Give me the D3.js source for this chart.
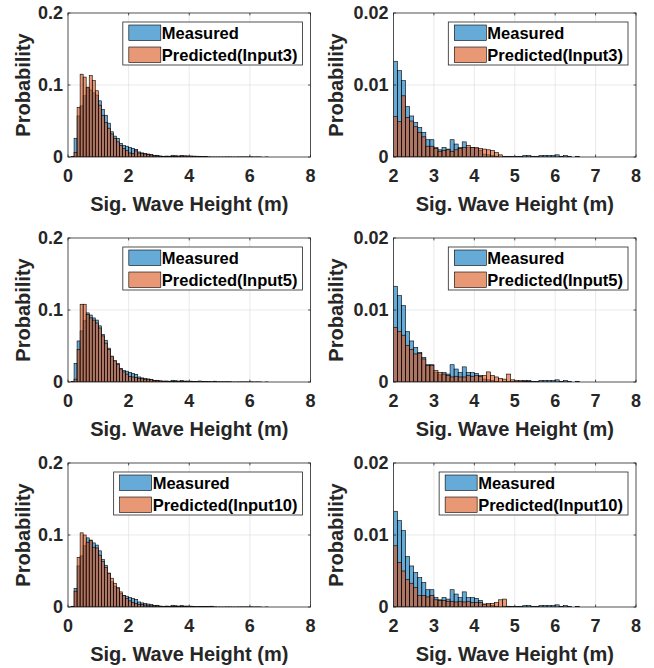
<!DOCTYPE html>
<html>
<head>
<meta charset="utf-8">
<script src="https://cdn.jsdelivr.net/npm/d3@7"></script>
<style>
  body { margin: 0; background: #fff; }
  svg { display: block; font-family: "Liberation Sans", Arial, sans-serif; font-weight: bold; }
</style>
</head>
<body>
<svg id="chart" width="654" height="668"></svg>
<script>
// histogram probabilities, bins of 0.1 m starting at 0 m
var binWidth = 0.1;

var measured = [
  0, 0.001, 0.026, 0.057, 0.071, 0.085, 0.096, 0.093, 0.089, 0.086,
  0.078, 0.066, 0.058, 0.047, 0.035, 0.029, 0.026, 0.019, 0.016, 0.015,
  0.0133, 0.0120, 0.0106, 0.0070, 0.0057, 0.0048, 0.0041, 0.0034, 0.0024, 0.0024,
  0.0013, 0.0010, 0.0013, 0.0011, 0.0024, 0.0018, 0.0013, 0.0021, 0.0013, 0.0013,
  0.0012, 0.0009, 0.0004, 0.0003, 0.0002, 0.0001, 0, 0.0001, 0.0001, 0.0001,
  0.0001, 0.0001, 0.0002, 0.0002, 0.0001, 0.0001, 0.0002, 0.0002, 0.0002, 0.0002,
  0.0003, 0.0001, 0.0002, 0.0001, 0, 0.0001
];

var predInput3 = [
  0, 0, 0.006, 0.069, 0.115, 0.111, 0.097, 0.113, 0.106, 0.092,
  0.072, 0.058, 0.048, 0.040, 0.032, 0.026, 0.021, 0.016, 0.012, 0.009,
  0.0056, 0.0049, 0.0085, 0.0055, 0.0050, 0.0042, 0.0034, 0.0028, 0.0015, 0.0015,
  0.0012, 0.0008, 0.0009, 0.0010, 0.0008, 0.0010, 0.0012, 0.0013, 0.0016, 0.0013,
  0.0013, 0.0012, 0.0011, 0.0010, 0.0009, 0.0006, 0.0003, 0, 0, 0,
  0, 0, 0, 0, 0, 0, 0, 0, 0, 0,
  0, 0, 0, 0, 0, 0
];

var predInput5 = [
  0, 0, 0.004, 0.045, 0.108, 0.108, 0.094, 0.089, 0.086, 0.082,
  0.075, 0.064, 0.054, 0.045, 0.036, 0.030, 0.024, 0.018, 0.014, 0.011,
  0.0076, 0.0070, 0.0065, 0.0051, 0.0045, 0.0039, 0.0040, 0.0032, 0.0023, 0.0023,
  0.0016, 0.0013, 0.0011, 0.0009, 0.0007, 0.0008, 0.0007, 0.0007, 0.0009, 0.0008,
  0.0009, 0.0008, 0.0009, 0.0014, 0.0009, 0.0007, 0.0005, 0.0004, 0.0011, 0.0003,
  0.0002, 0.0002, 0.0001, 0.0001, 0, 0, 0, 0, 0, 0,
  0, 0, 0, 0, 0, 0
];

var predInput10 = [
  0, 0.001, 0.022, 0.069, 0.103, 0.100, 0.090, 0.092, 0.083, 0.082,
  0.072, 0.063, 0.055, 0.047, 0.040, 0.033, 0.027, 0.021, 0.016, 0.012,
  0.0085, 0.0062, 0.0050, 0.0038, 0.0033, 0.0027, 0.0016, 0.0016, 0.0014, 0.0016,
  0.0010, 0.0009, 0.0009, 0.0008, 0.0008, 0.0007, 0.0008, 0.0007, 0.0008, 0.0006,
  0.0006, 0.0006, 0.0004, 0.0005, 0.0005, 0.0006, 0.0010, 0.0011, 0.0001, 0,
  0, 0, 0, 0, 0, 0, 0, 0, 0, 0,
  0, 0, 0, 0, 0, 0
];

var predictedSeries = [predInput3, predInput5, predInput10];
var predictedLabels = ["Predicted(Input3)", "Predicted(Input5)", "Predicted(Input10)"];
var measuredLabel = "Measured";

var leftXTicks = [0, 2, 4, 6, 8];
var leftYTicks = [0, 0.1, 0.2];
var rightXTicks = [2, 3, 4, 5, 6, 7, 8];
var rightYTicks = [0, 0.01, 0.02];

var xLabel = "Sig. Wave Height (m)";
var yLabel = "Probability";

// layout
var panelW = 242.5, panelH = 144;
var colX = [68, 393.5];
var rowY = [13, 238, 463];
var yLabelOffset = [38.5, 51];
var axisColor = "#262626";
var blue = "rgb(0,114,189)", orange = "rgb(217,83,25)";

var svg = d3.select("#chart");

var columns = [
  { xDomain: [0, 8], yDomain: [0, 0.2], xTicks: leftXTicks, yTicks: leftYTicks },
  { xDomain: [2, 8], yDomain: [0, 0.02], xTicks: rightXTicks, yTicks: rightYTicks }
];

function toBins(values, xmin) {
  return values.map(function(v, i) {
    return { x0: i * binWidth, x1: (i + 1) * binWidth, p: v };
  }).filter(function(d) { return d.p > 0 && d.x1 > xmin + 1e-9; });
}

function drawPanel(row, col) {
  var cfg = columns[col];
  var left = colX[col], top = rowY[row];
  var g = svg.append("g").attr("transform", `translate(${left},${top})`);

  var x = d3.scaleLinear().domain(cfg.xDomain).range([0, panelW]);
  var y = d3.scaleLinear().domain(cfg.yDomain).range([panelH, 0]);

  var clipId = "clip" + row + "_" + col;
  g.append("clipPath").attr("id", clipId)
    .append("rect").attr("width", panelW).attr("height", panelH);

  // grid
  g.append("g")
    .selectAll("line.vx")
    .data(cfg.xTicks.slice(1, -1))
    .enter().append("line")
    .attr("x1", d => x(d)).attr("x2", d => x(d))
    .attr("y1", 0).attr("y2", panelH)
    .attr("stroke", "#dcdcdc").attr("stroke-width", 0.6);
  g.append("g")
    .selectAll("line.hy")
    .data(cfg.yTicks.slice(1, -1))
    .enter().append("line")
    .attr("x1", 0).attr("x2", panelW)
    .attr("y1", d => y(d)).attr("y2", d => y(d))
    .attr("stroke", "#dcdcdc").attr("stroke-width", 0.6);

  // bars
  var bars = g.append("g").attr("clip-path", `url(#${clipId})`);
  [[measured, blue], [predictedSeries[row], orange]].forEach(function(s) {
    bars.append("g")
      .selectAll("rect")
      .data(toBins(s[0], cfg.xDomain[0]))
      .enter().append("rect")
      .attr("x", d => x(d.x0))
      .attr("width", d => x(d.x1) - x(d.x0))
      .attr("y", d => y(d.p))
      .attr("height", d => y(0) - y(d.p))
      .attr("fill", s[1])
      .attr("fill-opacity", 0.6)
      .attr("stroke", "#000")
      .attr("stroke-width", 0.6);
  });

  // box and ticks (inward, all four sides)
  var tl = 2.4;
  g.append("rect").attr("width", panelW).attr("height", panelH)
    .attr("fill", "none").attr("stroke", axisColor).attr("stroke-width", 0.8);
  var ticks = g.append("g").attr("stroke", axisColor).attr("stroke-width", 0.8);
  cfg.xTicks.forEach(function(t) {
    ticks.append("line").attr("x1", x(t)).attr("x2", x(t)).attr("y1", panelH).attr("y2", panelH - tl);
    ticks.append("line").attr("x1", x(t)).attr("x2", x(t)).attr("y1", 0).attr("y2", tl);
  });
  cfg.yTicks.forEach(function(t) {
    ticks.append("line").attr("x1", 0).attr("x2", tl).attr("y1", y(t)).attr("y2", y(t));
    ticks.append("line").attr("x1", panelW).attr("x2", panelW - tl).attr("y1", y(t)).attr("y2", y(t));
  });

  // tick labels
  g.append("g").selectAll("text")
    .data(cfg.xTicks).enter().append("text")
    .attr("x", d => x(d)).attr("y", panelH + 25)
    .attr("text-anchor", "middle")
    .attr("fill", axisColor).style("font-size", "18px")
    .text(d => String(d));
  g.append("g").selectAll("text")
    .data(cfg.yTicks).enter().append("text")
    .attr("x", -5).attr("y", d => y(d)).attr("dy", "0.36em")
    .attr("text-anchor", "end")
    .attr("fill", axisColor).style("font-size", "18px")
    .text(d => String(d));

  // axis labels
  g.append("text")
    .attr("x", panelW / 2).attr("y", panelH + 54)
    .attr("text-anchor", "middle")
    .attr("fill", axisColor).style("font-size", "20px")
    .text(xLabel);
  g.append("text")
    .attr("transform", `translate(${-yLabelOffset[col]},${panelH / 2}) rotate(-90)`)
    .attr("text-anchor", "middle")
    .attr("fill", axisColor).style("font-size", "20px")
    .text(yLabel);

  // legend
  var lg = g.append("g");
  var box = lg.append("rect").attr("fill", "#fff").attr("stroke", axisColor).attr("stroke-width", 0.8);
  var entries = [[measuredLabel, blue], [predictedLabels[row], orange]];
  var maxW = 0;
  var items = entries.map(function(e, i) {
    var sw = lg.append("rect")
      .attr("y", 3 + i * 22).attr("width", 32).attr("height", 15.5)
      .attr("fill", e[1]).attr("fill-opacity", 0.6)
      .attr("stroke", "#000").attr("stroke-width", 0.6);
    var tx = lg.append("text")
      .attr("y", 17 + i * 22)
      .attr("fill", "#000").style("font-size", "16.5px")
      .text(e[0]);
    maxW = Math.max(maxW, tx.node().getComputedTextLength());
    return [sw, tx];
  });
  var boxW = 39 + maxW + 5;
  var bx = panelW - 8 - boxW, by = 9;
  lg.attr("transform", `translate(${bx},${by})`);
  box.attr("width", boxW).attr("height", 43);
  items.forEach(function(it) {
    it[0].attr("x", 6);
    it[1].attr("x", 39);
  });
}

for (var r = 0; r < 3; r++) {
  drawPanel(r, 0);
  drawPanel(r, 1);
}
</script>
</body>
</html>
